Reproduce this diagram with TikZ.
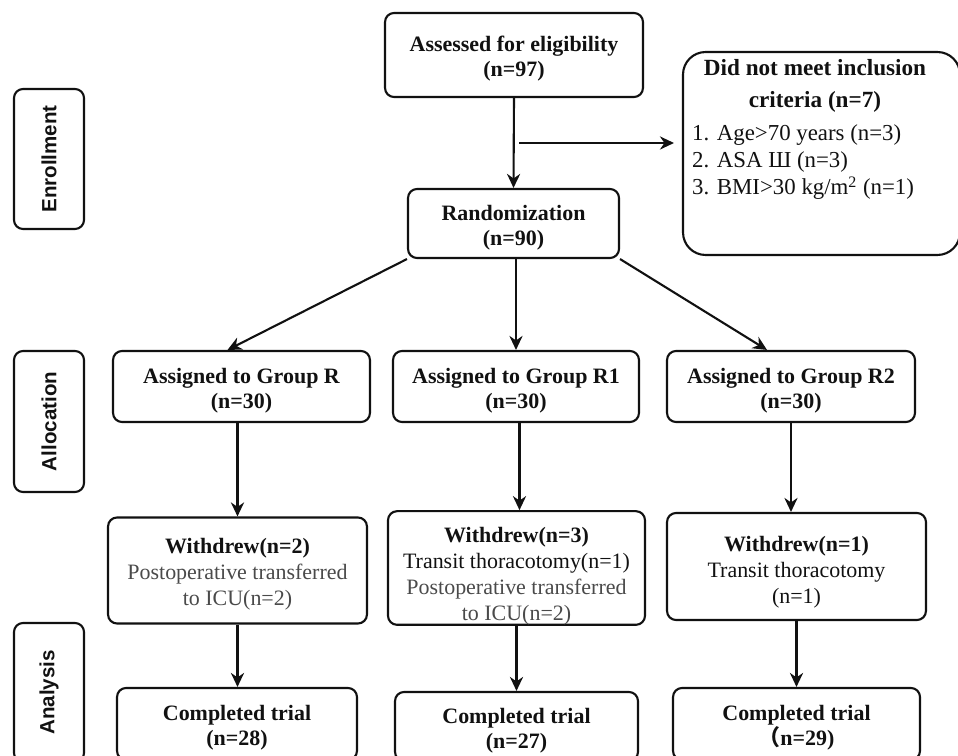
\documentclass[tikz,border=0pt]{standalone}
\usepackage{fontspec}
\setmainfont{Liberation Serif}
\setsansfont{Liberation Sans}
\newfontfamily\cjkfont{Noto Sans CJK SC}
\usepackage{xcolor}
\usetikzlibrary{arrows.meta}
\definecolor{chartink}{HTML}{111111}
\definecolor{chartgray}{HTML}{4A4A4A}
\newcommand{\boxrise}[1][13.1pt]{\rule{0pt}{#1}}

\begin{document}
\begin{tikzpicture}[x=0.02cm, y=-0.02cm, >={Stealth[length=8pt,width=7.5pt]},
                    every node/.style={chartink},
                    plainbox/.style={draw=chartink, line width=1.2pt, rounded corners=0.18cm,
                                     inner sep=0pt, align=center},
                    flowbox/.style={plainbox, font=\fontsize{12.5}{14.8}\selectfont},
                    headbox/.style={plainbox, font=\bfseries\fontsize{12.5}{14.4}\selectfont},
                    stagebox/.style={plainbox, rotate=90, minimum height=1.4cm,
                                     font=\sffamily\bfseries\fontsize{11.7}{14}\selectfont},
                    flowline/.style={draw=chartink, line width=1.2pt, ->}]

  \useasboundingbox (0,0) rectangle (958,756);

  %% 左側的階段標籤
  \node[stagebox, minimum width=2.8cm]  (enroll) at (49,159)   {Enrollment};
  \node[stagebox, minimum width=2.82cm] (alloc)  at (49,421.5) {Allocation};
  \node[stagebox, minimum width=2.78cm] (analys) at (49,692.5) {Analysis};

  %% 篩選與隨機分組
  \node[headbox, minimum width=5.16cm, minimum height=1.68cm] (assess) at (514,55)
    {\boxrise Assessed for eligibility\\(n=97)};
  \node[headbox, minimum width=4.22cm, minimum height=1.38cm] (rand) at (513.5,223.5)
    {\boxrise Randomization\\(n=90)};

  %% 排除的病例
  \node[plainbox, rounded corners=0.45cm, minimum width=5.54cm, minimum height=4.06cm] (excl)
    at (821.5,153.5) {};
  \node[align=center, font=\bfseries\fontsize{13.2}{18.2}\selectfont] (excltitle) at (815,86)
    {Did not meet inclusion\\criteria (n=7)};
  \node[anchor=west, align=left, font=\fontsize{13}{15.6}\selectfont] (excllist) at (686,162)
    {1. Age>70 years (n=3)\\2. ASA Ш (n=3)\\3. BMI>30 kg/m\textsuperscript{2} (n=1)};

  %% 三組
  \node[headbox, minimum width=5.14cm, minimum height=1.42cm] (grpR)  at (241.5,386.5)
    {\boxrise Assigned to Group R\\(n=30)};
  \node[headbox, minimum width=4.92cm, minimum height=1.42cm] (grpRa) at (516,386.5)
    {\boxrise Assigned to Group R1\\(n=30)};
  \node[headbox, minimum width=4.96cm, minimum height=1.42cm] (grpRb) at (791,386.5)
    {\boxrise Assigned to Group R2\\(n=30)};

  %% 退出
  \node[flowbox, minimum width=5.18cm, minimum height=2.12cm] (wdR)  at (237.5,570.5)
    {\boxrise\textbf{Withdrew(n=2)}\\\textcolor{chartgray}{Postoperative transferred}\\\textcolor{chartgray}{to ICU(n=2)}};
  \node[flowbox, minimum width=5.14cm, minimum height=2.12cm] (wdRa) at (516.5,568)
    {\boxrise[17.6pt]\textbf{Withdrew(n=3)}\\Transit thoracotomy(n=1)\\\textcolor{chartgray}{Postoperative transferred}\\\textcolor{chartgray}{to ICU(n=2)}};
  \node[flowbox, minimum width=5.18cm, minimum height=2.14cm] (wdRb) at (796.5,566.5)
    {\boxrise[15.6pt]\textbf{Withdrew(n=1)}\\Transit thoracotomy\\(n=1)};

  %% 完成試驗
  \node[headbox, minimum width=4.8cm,  minimum height=1.44cm] (doneR)  at (237,724)
    {\boxrise Completed trial\\(n=28)};
  \node[headbox, minimum width=4.86cm, minimum height=1.38cm] (doneRa) at (516.5,726.5)
    {\boxrise Completed trial\\(n=27)};
  \node[headbox, minimum width=4.94cm, minimum height=1.44cm] (doneRb) at (796.5,724)
    {\boxrise Completed trial\\{\cjkfont （}n=29)};

  %% 箭頭
  \coordinate (split) at (519,143);
  \draw[flowline] (assess.south) -- (rand.north);
  \draw[flowline, shorten >=0.16cm] (split) -- (split -| excl.west);
  \draw[flowline] (rand.south west) -- ([xshift=-0.28cm]grpR.north);
  \draw[flowline] (grpRa.north |- rand.south) -- (grpRa.north);
  \draw[flowline] (rand.south east) -- ([xshift=-0.48cm]grpRb.north);
  \draw[flowline] (wdR.north |- grpR.south) -- (wdR.north);
  \draw[flowline] ([xshift=0.06cm]wdRa.north |- grpRa.south) -- ([xshift=0.06cm]wdRa.north);
  \draw[flowline] (grpRb.south) -- (grpRb.south |- wdRb.north);
  \draw[flowline] (wdR.south) -- (wdR.south |- doneR.north);
  \draw[flowline] (wdRa.south) -- (doneRa.north);
  \draw[flowline] (wdRb.south) -- (doneRb.north);

\end{tikzpicture}
\end{document}
